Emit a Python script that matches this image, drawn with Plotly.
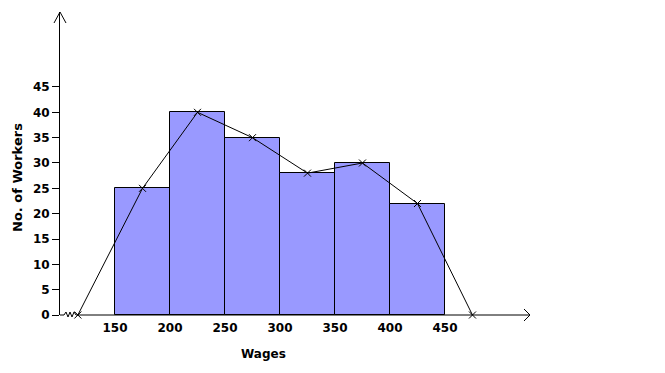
import plotly.graph_objects as go

# ---- data ----
class_lower = [150, 200, 250, 300, 350, 400]
class_width = 50
workers = [25, 40, 35, 28, 30, 22]
polygon_mid = [125, 175, 225, 275, 325, 375, 425, 475]
polygon_freq = [0, 25, 40, 35, 28, 30, 22, 0]
x_ticks = [150, 200, 250, 300, 350, 400, 450]
y_ticks = [0, 5, 10, 15, 20, 25, 30, 35, 40, 45]

X_MIN, X_MAX = 100, 527.3
Y_MIN, Y_MAX = 0, 59.8
BREAK = 150


def broken_axis(v):
    # values left of the axis break are drawn on a shifted scale
    return v if v >= BREAK else BREAK - (BREAK - v) * 1.35


FONT = dict(family="DejaVu Sans", size=12, color="black", weight="bold")
TITLE_FONT = dict(family="DejaVu Sans", size=13, color="black", weight="bold")

fig = go.Figure()

fig.add_trace(go.Bar(
    x=[l + class_width / 2 for l in class_lower],
    y=workers,
    width=class_width,
    marker=dict(color="#9999FF", line=dict(color="black", width=1)),
    showlegend=False,
    hoverinfo="skip",
))

fig.add_trace(go.Scatter(
    x=[broken_axis(v) for v in polygon_mid],
    y=polygon_freq,
    mode="lines+markers",
    line=dict(color="black", width=1),
    marker=dict(symbol="x-thin", size=7, line=dict(color="black", width=1), color="black"),
    showlegend=False,
    cliponaxis=False,
))

shapes = [
    # x axis with break zigzag
    dict(type="path", xref="paper", yref="paper", xsizemode="pixel", ysizemode="pixel",
         xanchor=0, yanchor=0,
         path="M 0,0 L 4,0 L 6,3 L 8,-2 L 10,3 L 12,-2 L 14,3 L 16,0 L 470,0",
         line=dict(color="black", width=1), layer="above"),
    # x arrow head
    dict(type="path", xref="paper", yref="paper", xsizemode="pixel", ysizemode="pixel",
         xanchor=1, yanchor=0,
         path="M -6,6 L 0,0 L -6,-6",
         line=dict(color="black", width=1), layer="above"),
    # y arrow head
    dict(type="path", xref="paper", yref="paper", xsizemode="pixel", ysizemode="pixel",
         xanchor=0, yanchor=1,
         path="M -6,-11 L 0,0 L 6,-11",
         line=dict(color="black", width=1), layer="above"),
]

fig.update_layout(
    width=665, height=373,
    margin=dict(l=60, r=135, t=12, b=58, pad=0),
    paper_bgcolor="white", plot_bgcolor="white",
    font=FONT,
    bargap=0,
    shapes=shapes,
    xaxis=dict(range=[X_MIN, X_MAX], tickvals=x_ticks, ticktext=[str(t) for t in x_ticks],
               showgrid=False, zeroline=False, showline=False, ticks="",
               tickfont=FONT, ticklabelstandoff=4),
    yaxis=dict(range=[Y_MIN, Y_MAX], tickvals=y_ticks, ticktext=[str(t) for t in y_ticks],
               showgrid=False, zeroline=False, showline=True, linecolor="black", linewidth=1,
               ticks="outside", ticklen=7, tickcolor="black", tickwidth=1, tickfont=FONT),
    annotations=[
        dict(text="Wages", xref="paper", yref="paper", x=(263 - 60) / 470, y=-(354 - 315) / 303,
             showarrow=False, font=FONT, xanchor="center", yanchor="middle"),
        dict(text="No. of Workers", xref="paper", yref="paper", x=-(60 - 17) / 470,
             y=(315 - 178) / 303, showarrow=False, font=TITLE_FONT, textangle=-90,
             xanchor="center", yanchor="middle"),
    ],
)

fig.write_html("out.html")
